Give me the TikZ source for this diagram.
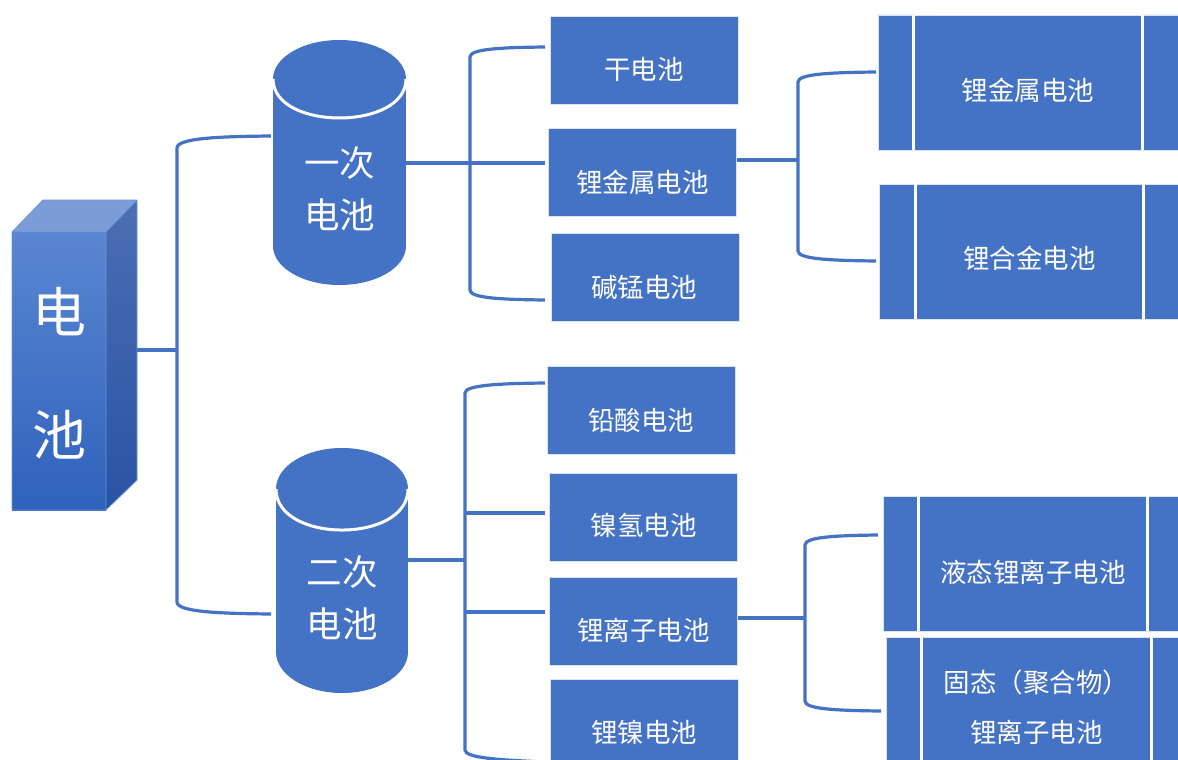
\documentclass[tikz,border=0pt]{standalone}
\usepackage{fontspec}
\newfontfamily\cjk{Noto Sans CJK SC}
\definecolor{accent}{HTML}{4472C4}
\definecolor{frontTop}{HTML}{5A86D2}
\definecolor{frontBot}{HTML}{2F62BC}
\definecolor{sideTop}{HTML}{4C6EB4}
\definecolor{sideBot}{HTML}{2953A3}
\definecolor{topFace}{HTML}{7C9CD7}
\definecolor{edgeLight}{HTML}{6A92DA}
\begin{document}
\begin{tikzpicture}[x=1pt,y=-1pt,
  conn/.style={draw=accent,line width=3.2pt},
  box/.style={rectangle,fill=accent,draw=white!80!accent,line width=0.8pt,inner sep=0pt,
              minimum width=188pt,minimum height=88pt},
  procmid/.style={rectangle,fill=accent,draw=white!80!accent,line width=0.8pt,inner sep=0pt,
              minimum height=135pt},
  procside/.style={fill=accent,draw=white!80!accent,line width=0.8pt},
  sep/.style={draw=white,line width=3.5pt},
  boxtxt/.style={text=white,inner sep=0pt,align=center,font=\cjk\fontsize{26.5}{50}\selectfont},
  cyltxt/.style={text=white,inner sep=0pt,align=center,font=\cjk\fontsize{35.5}{52}\selectfont},
  bigtxt/.style={text=white,inner sep=0pt,align=center,font=\cjk\fontsize{54}{123}\selectfont},
]
\useasboundingbox (0,0) rectangle (1178,760);

% ---------- 3D block "电池" ----------
\fill[topFace] (12,232) -- (43,200) -- (137,200) -- (106,232) -- cycle;
\shade[top color=sideTop,bottom color=sideBot] (106,232) -- (137,200) -- (137,480) -- (106,510) -- cycle;
\shade[top color=frontTop,bottom color=frontBot] (12,232) rectangle (106,510);
\draw[edgeLight,line width=0.8pt,line join=round]
  (12,510) -- (12,232) -- (43,200) -- (137,200) -- (137,480) -- (106,510) -- cycle
  (12,232) -- (106,232) -- (137,200) (106,232) -- (106,510);
\node[bigtxt,minimum width=94pt,minimum height=278pt] (bat) at (59,373.5) {电\\池};

% ---------- cylinders ----------
\fill[accent] (273,79) rectangle (406,246);
\fill[accent] (339.5,79) ellipse [x radius=66.5, y radius=39];
\fill[accent] (339.5,246) ellipse [x radius=66.5, y radius=39];
\draw[white,line width=3pt] (273,79) .. controls (273,131) and (406,131) .. (406,79);
\node[cyltxt] (c1) at (339.5,189) {一次\\电池};

\fill[accent] (276,489) rectangle (408,652);
\fill[accent] (342,489) ellipse [x radius=66, y radius=41];
\fill[accent] (342,652) ellipse [x radius=66, y radius=41];
\draw[white,line width=3pt] (276,489) .. controls (276,543.7) and (408,543.7) .. (408,489);
\node[cyltxt] (c2) at (342,598) {二次\\电池};

% ---------- second level boxes ----------
\node[box] (gan) at (644,60) {};
\node[boxtxt] (gan-t) at ([yshift=-9pt]gan.center) {干电池};
\node[box] (lim1) at (642.5,172) {};
\node[boxtxt] (lim1-t) at ([yshift=-10pt]lim1.center) {锂金属电池};
\node[box] (jm) at (645,277.5) {};
\node[boxtxt] (jm-t) at ([yshift=-9.5pt,xshift=-1pt]jm.center) {碱锰电池};

\node[box] (qs) at (641,410) {};
\node[boxtxt] (qs-t) at ([yshift=-10pt]qs.center) {铅酸电池};
\node[box] (nq) at (643.5,517) {};
\node[boxtxt] (nq-t) at ([yshift=-8pt]nq.center) {镍氢电池};
\node[box] (lz) at (643.5,621) {};
\node[boxtxt] (lz-t) at ([yshift=-9pt]lz.center) {锂离子电池};
\node[box] (ln) at (644,723) {};
\node[boxtxt] (ln-t) at ([yshift=-9pt]ln.center) {锂镍电池};

% ---------- third level process boxes ----------
\filldraw[procside] (878,15) rectangle (914,150) (1142,15) rectangle (1195,150);
\node[procmid,minimum width=228pt] (r1) at (1028,82.5) {};
\draw[sep] (r1.north west) -- (r1.south west) (r1.north east) -- (r1.south east);
\node[boxtxt] (r1-t) at ([yshift=-7.5pt]r1.center) {锂金属电池};

\filldraw[procside] (879,184) rectangle (916,319) (1143,184) rectangle (1195,319);
\node[procmid,minimum width=227pt] (r2) at (1029.5,251.5) {};
\draw[sep] (r2.north west) -- (r2.south west) (r2.north east) -- (r2.south east);
\node[boxtxt] (r2-t) at ([yshift=-6.5pt]r2.center) {锂合金电池};

\filldraw[procside] (883,496) rectangle (919,631) (1147,496) rectangle (1195,631);
\node[procmid,minimum width=228pt] (r3) at (1033,563.5) {};
\draw[sep] (r3.north west) -- (r3.south west) (r3.north east) -- (r3.south east);
\node[boxtxt] (r3-t) at ([yshift=-8.5pt]r3.center) {液态锂离子电池};

\filldraw[procside] (886,637) rectangle (922,772) (1151,637) rectangle (1195,772);
\node[procmid,minimum width=229pt] (r4) at (1036.5,704.5) {};
\draw[sep] (r4.north west) -- (r4.south west) (r4.north east) -- (r4.south east);
\node[boxtxt] (r4-t) at ([yshift=-2.5pt]r4.center) {固态（聚合物）\\锂离子电池};

% ---------- connector end points ----------
\coordinate (batR) at (137,350);
\coordinate (spA)  at (177,350);
\coordinate (c1L)  at (271,136);
\coordinate (c2L)  at (271,614);

\coordinate (c1R)   at (406,163);
\coordinate (ganL)  at (545,47);
\coordinate (lim1L) at (545,163);
\coordinate (jmL)   at (545,300);

\coordinate (lim1R) at (737,160);
\coordinate (spC)   at (798,160);
\coordinate (r1L)   at (876,72);
\coordinate (r2L)   at (876,261);

\coordinate (c2R) at (408,560);
\coordinate (spD) at (465,560);
\coordinate (spE) at (465,513);
\coordinate (spF) at (465,612);
\coordinate (qsL) at (545,383);
\coordinate (nqL) at (545,513);
\coordinate (lzL) at (545,612);
\coordinate (lnL) at (545,762);

\coordinate (lzR) at (738,618);
\coordinate (spG) at (805,618);
\coordinate (r3L) at (878,535);
\coordinate (r4L) at (881,711);

% ---------- brackets ----------
\draw[conn] (batR) -- (spA);
\draw[conn] (c1L) .. controls (220,136.5) and (177,138) .. (177,148) -- (177,602)
            .. controls (177,612) and (220,613.5) .. (c2L);

\draw[conn] (ganL) .. controls (500,47.5) and (470,49) .. (470,57) -- (470,290)
            .. controls (470,298) and (500,299.5) .. (jmL);
\draw[conn] (c1R) -- (lim1L);

\draw[conn] (lim1R) -- (spC);
\draw[conn] (r1L) .. controls (830,72.5) and (798,74) .. (798,82) -- (798,251)
            .. controls (798,259) and (830,260.5) .. (r2L);

\draw[conn] (qsL) .. controls (500,383.5) and (465,385) .. (465,393) -- (465,750)
            .. controls (465,758) and (500,760) .. (lnL);
\draw[conn] (c2R) -- (spD);
\draw[conn] (spE) -- (nqL);
\draw[conn] (spF) -- (lzL);

\draw[conn] (lzR) -- (spG);
\draw[conn] (r3L) .. controls (835,535.5) and (805,537) .. (805,545) -- (805,701)
            .. controls (805,709) and (835,710.5) .. (r4L);
\end{tikzpicture}
\end{document}
